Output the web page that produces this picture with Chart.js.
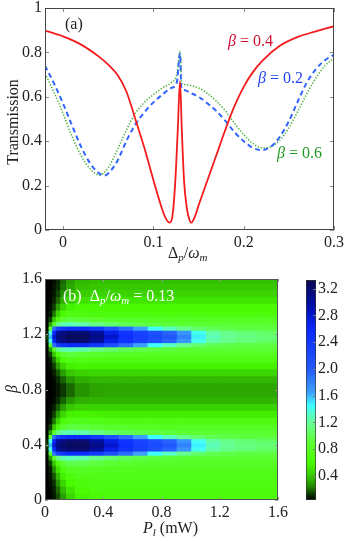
<!DOCTYPE html>
<html>
<head>
<meta charset="utf-8">
<script src="https://cdn.jsdelivr.net/npm/chart.js@4.4.0/dist/chart.umd.min.js"></script>
<style>
body { margin: 0; background: #fff; }
#wrap { position: relative; width: 346px; height: 541px; overflow: hidden; font-family: 'Liberation Serif', 'Times New Roman', serif; color: #222; }
canvas { position: absolute; }
.lbl { position: absolute; white-space: nowrap; font-size: 16px; line-height: 16px; }
.lbl sub { font-size: 11px; vertical-align: -3px; line-height: 0; }
.rot { transform: translate(-50%, -50%) rotate(-90deg); }
</style>
</head>
<body>
<div id="wrap">
<canvas id="chart_a" width="346" height="270" style="left:0;top:0"></canvas>
<canvas id="chart_b" width="292" height="271" style="left:0;top:270px"></canvas>
<canvas id="chart_c" width="54" height="271" style="left:292px;top:270px"></canvas>

<div class="lbl" style="left:65px;top:16px">(a)</div>
<div class="lbl" style="left:228px;top:33px;color:#d01030"><i>β</i> = 0.4</div>
<div class="lbl" style="left:258px;top:70px;color:#2244ee"><i>β</i> = 0.2</div>
<div class="lbl" style="left:277px;top:145px;color:#229922"><i>β</i> = 0.6</div>
<div class="lbl rot" style="left:13px;top:122px">Transmission</div>
<div class="lbl" style="left:168px;top:245px">Δ<sub><i>p</i></sub>/<i>ω</i><sub><i>m</i></sub></div>

<div class="lbl" style="left:63px;top:288px;color:#fff">(b)&nbsp; Δ<sub><i>p</i></sub>/<i>ω</i><sub><i>m</i></sub> = 0.13</div>
<div class="lbl rot" style="left:12px;top:389px"><i>β</i></div>
<div class="lbl" style="left:143px;top:520px"><i>P</i><sub><i>l</i></sub> (mW)</div>
</div>

<script>
const font_family = "'Liberation Serif', 'Times New Roman', serif";

// panel (a): transmission vs detuning
const x_red = [-0.02, 0, 0.02, 0.04, 0.05, 0.06, 0.07, 0.08, 0.09, 0.1, 0.105, 0.11, 0.114, 0.118, 0.121, 0.124, 0.127, 0.1295,
    0.1315, 0.134, 0.137, 0.14, 0.142, 0.146, 0.15, 0.16, 0.17, 0.18, 0.19, 0.2, 0.21, 0.22, 0.24, 0.26, 0.28, 0.3];
const t_red = [0.898, 0.872, 0.835, 0.78, 0.745, 0.70, 0.625, 0.50, 0.37, 0.225, 0.155, 0.09, 0.05, 0.033, 0.06, 0.2, 0.45, 0.67,
    0.45, 0.22, 0.10, 0.045, 0.033, 0.06, 0.11, 0.225, 0.34, 0.455, 0.56, 0.645, 0.71, 0.76, 0.83, 0.87, 0.895, 0.918];

const x_blue = [-0.02, -0.01, 0, 0.01, 0.02, 0.03, 0.04, 0.045, 0.05, 0.06, 0.07, 0.08, 0.09, 0.1, 0.11, 0.12, 0.126, 0.1295,
    0.131, 0.135, 0.14, 0.15, 0.16, 0.17, 0.18, 0.19, 0.2, 0.21, 0.22, 0.23, 0.24, 0.25, 0.26, 0.27, 0.28, 0.29, 0.3];
const t_blue = [0.74, 0.66, 0.57, 0.47, 0.375, 0.30, 0.255, 0.245, 0.255, 0.31, 0.40, 0.475, 0.53, 0.575, 0.61, 0.64, 0.665, 0.795,
    0.64, 0.63, 0.62, 0.60, 0.57, 0.535, 0.49, 0.44, 0.40, 0.37, 0.36, 0.375, 0.42, 0.49, 0.58, 0.665, 0.725, 0.765, 0.79];

const x_green = [-0.02, -0.01, 0, 0.01, 0.02, 0.03, 0.04, 0.05, 0.06, 0.07, 0.08, 0.09, 0.1, 0.11, 0.12, 0.126, 0.1295,
    0.1315, 0.135, 0.14, 0.15, 0.16, 0.17, 0.18, 0.19, 0.2, 0.21, 0.22, 0.23, 0.24, 0.25, 0.26, 0.27, 0.28, 0.29, 0.3];
const t_green = [0.705, 0.62, 0.525, 0.42, 0.335, 0.275, 0.248, 0.28, 0.36, 0.45, 0.525, 0.575, 0.61, 0.64, 0.665, 0.70, 0.805,
    0.66, 0.655, 0.652, 0.64, 0.615, 0.58, 0.535, 0.48, 0.43, 0.39, 0.37, 0.375, 0.405, 0.46, 0.535, 0.615, 0.685, 0.74, 0.775];

const ticks_a_x = [0, 0.1, 0.2, 0.3];
const ticks_a_y = [0, 0.2, 0.4, 0.6, 0.8, 1];

// panel (b): map over pump power P_l (columns) and beta (rows, finer round the two blue lobes)
const p_edges = [0, 0.02, 0.045, 0.07, 0.1, 0.14, 0.2, 0.3, 0.4, 0.5, 0.6, 0.7, 0.8, 0.9, 1.0, 1.1, 1.2, 1.3, 1.45, 1.6];
const beta_rows = [0.025, 0.075, 0.125, 0.175, 0.225, 0.27, 0.31, 0.34, 0.37, 0.40, 0.43, 0.46, 0.49, 0.53, 0.575, 0.625,
    0.675, 0.725, 0.775, 0.825, 0.875, 0.925, 0.975, 1.02, 1.06, 1.095, 1.125, 1.155, 1.185, 1.215, 1.245, 1.275, 1.31,
    1.35, 1.40, 1.45, 1.50, 1.55, 1.59];
const heat = [
    [0.04, 0.05, 0.08, 0.16, 0.30, 0.45, 0.58, 0.63, 0.65, 0.66, 0.66, 0.66, 0.66, 0.66, 0.66, 0.66, 0.66, 0.66, 0.66],
    [0.04, 0.05, 0.09, 0.20, 0.36, 0.52, 0.63, 0.67, 0.68, 0.68, 0.68, 0.68, 0.68, 0.68, 0.68, 0.68, 0.68, 0.68, 0.68],
    [0.04, 0.06, 0.12, 0.27, 0.45, 0.60, 0.68, 0.70, 0.70, 0.70, 0.70, 0.70, 0.70, 0.70, 0.70, 0.70, 0.70, 0.70, 0.70],
    [0.04, 0.07, 0.17, 0.36, 0.56, 0.68, 0.73, 0.73, 0.72, 0.72, 0.72, 0.72, 0.72, 0.72, 0.72, 0.72, 0.72, 0.72, 0.72],
    [0.04, 0.09, 0.25, 0.50, 0.70, 0.80, 0.82, 0.80, 0.78, 0.77, 0.76, 0.76, 0.76, 0.76, 0.76, 0.76, 0.76, 0.76, 0.76],
    [0.05, 0.14, 0.40, 0.70, 0.90, 0.98, 0.98, 0.94, 0.90, 0.87, 0.85, 0.84, 0.84, 0.83, 0.83, 0.83, 0.83, 0.83, 0.83],
    [0.05, 0.30, 0.85, 1.15, 1.25, 1.28, 1.25, 1.15, 1.07, 1.00, 0.96, 0.94, 0.92, 0.90, 0.90, 0.90, 0.90, 0.90, 0.90],
    [0.06, 0.90, 1.90, 2.30, 2.45, 2.55, 2.55, 2.40, 2.15, 1.90, 1.65, 1.45, 1.30, 1.18, 1.08, 1.00, 0.97, 0.95, 0.94],
    [0.10, 1.40, 2.60, 3.00, 3.12, 3.20, 3.20, 3.00, 2.70, 2.45, 2.28, 2.12, 1.95, 1.70, 1.42, 1.24, 1.16, 1.11, 1.06],
    [0.15, 1.60, 2.80, 3.10, 3.20, 3.28, 3.28, 3.10, 2.80, 2.52, 2.32, 2.18, 2.05, 1.80, 1.48, 1.28, 1.20, 1.14, 1.10],
    [0.10, 1.40, 2.60, 3.00, 3.12, 3.20, 3.20, 3.00, 2.70, 2.45, 2.28, 2.12, 1.95, 1.70, 1.42, 1.24, 1.16, 1.11, 1.06],
    [0.06, 0.90, 1.90, 2.30, 2.45, 2.55, 2.55, 2.40, 2.15, 1.90, 1.65, 1.45, 1.30, 1.18, 1.08, 1.00, 0.97, 0.95, 0.94],
    [0.05, 0.30, 0.85, 1.15, 1.25, 1.28, 1.25, 1.15, 1.07, 1.00, 0.96, 0.94, 0.92, 0.90, 0.90, 0.90, 0.90, 0.90, 0.90],
    [0.05, 0.14, 0.40, 0.70, 0.88, 0.95, 0.94, 0.90, 0.86, 0.84, 0.82, 0.81, 0.80, 0.80, 0.80, 0.80, 0.80, 0.80, 0.80],
    [0.04, 0.08, 0.22, 0.45, 0.65, 0.74, 0.75, 0.73, 0.71, 0.70, 0.70, 0.70, 0.70, 0.70, 0.70, 0.70, 0.70, 0.70, 0.70],
    [0.04, 0.06, 0.14, 0.30, 0.46, 0.56, 0.58, 0.57, 0.56, 0.55, 0.55, 0.55, 0.55, 0.55, 0.55, 0.55, 0.55, 0.55, 0.55],
    [0.04, 0.05, 0.09, 0.18, 0.30, 0.40, 0.44, 0.44, 0.44, 0.44, 0.44, 0.44, 0.44, 0.44, 0.44, 0.44, 0.44, 0.44, 0.44],
    [0.04, 0.04, 0.06, 0.11, 0.19, 0.28, 0.34, 0.35, 0.35, 0.35, 0.35, 0.35, 0.35, 0.35, 0.35, 0.35, 0.35, 0.35, 0.35],
    [0.04, 0.04, 0.05, 0.08, 0.13, 0.20, 0.27, 0.31, 0.32, 0.32, 0.32, 0.32, 0.32, 0.32, 0.32, 0.32, 0.32, 0.32, 0.32],
    [0.04, 0.04, 0.05, 0.08, 0.13, 0.20, 0.27, 0.31, 0.32, 0.32, 0.32, 0.32, 0.32, 0.32, 0.32, 0.32, 0.32, 0.32, 0.32],
    [0.04, 0.04, 0.06, 0.11, 0.19, 0.28, 0.34, 0.36, 0.36, 0.36, 0.36, 0.36, 0.36, 0.36, 0.36, 0.36, 0.36, 0.36, 0.36],
    [0.04, 0.05, 0.09, 0.18, 0.30, 0.40, 0.44, 0.45, 0.45, 0.45, 0.45, 0.45, 0.45, 0.45, 0.45, 0.45, 0.45, 0.45, 0.45],
    [0.04, 0.06, 0.14, 0.30, 0.46, 0.56, 0.58, 0.57, 0.57, 0.57, 0.57, 0.57, 0.57, 0.57, 0.57, 0.57, 0.57, 0.57, 0.57],
    [0.04, 0.08, 0.22, 0.45, 0.65, 0.73, 0.73, 0.71, 0.70, 0.70, 0.70, 0.70, 0.70, 0.70, 0.70, 0.70, 0.70, 0.70, 0.70],
    [0.05, 0.14, 0.40, 0.70, 0.88, 0.93, 0.90, 0.86, 0.84, 0.82, 0.81, 0.80, 0.80, 0.80, 0.80, 0.80, 0.80, 0.80, 0.80],
    [0.05, 0.30, 0.85, 1.15, 1.25, 1.28, 1.25, 1.15, 1.07, 1.00, 0.96, 0.94, 0.92, 0.90, 0.90, 0.90, 0.90, 0.90, 0.90],
    [0.06, 0.90, 1.90, 2.30, 2.45, 2.55, 2.55, 2.40, 2.15, 1.90, 1.65, 1.45, 1.30, 1.18, 1.08, 1.00, 0.97, 0.95, 0.94],
    [0.10, 1.40, 2.60, 3.00, 3.12, 3.20, 3.20, 3.00, 2.70, 2.45, 2.28, 2.12, 1.95, 1.70, 1.42, 1.24, 1.16, 1.11, 1.06],
    [0.15, 1.60, 2.80, 3.10, 3.20, 3.28, 3.28, 3.10, 2.80, 2.52, 2.32, 2.18, 2.05, 1.80, 1.48, 1.28, 1.20, 1.14, 1.10],
    [0.10, 1.40, 2.60, 3.00, 3.12, 3.20, 3.20, 3.00, 2.70, 2.45, 2.28, 2.12, 1.95, 1.70, 1.42, 1.24, 1.16, 1.11, 1.06],
    [0.06, 0.90, 1.90, 2.30, 2.45, 2.55, 2.55, 2.40, 2.15, 1.90, 1.65, 1.45, 1.30, 1.18, 1.08, 1.00, 0.97, 0.95, 0.94],
    [0.05, 0.30, 0.85, 1.15, 1.25, 1.28, 1.25, 1.15, 1.07, 1.00, 0.96, 0.94, 0.92, 0.90, 0.90, 0.90, 0.90, 0.90, 0.90],
    [0.05, 0.14, 0.40, 0.70, 0.88, 0.93, 0.90, 0.86, 0.84, 0.82, 0.81, 0.80, 0.80, 0.80, 0.80, 0.80, 0.80, 0.80, 0.80],
    [0.04, 0.08, 0.22, 0.45, 0.63, 0.70, 0.70, 0.68, 0.67, 0.67, 0.67, 0.67, 0.67, 0.67, 0.67, 0.67, 0.67, 0.67, 0.67],
    [0.04, 0.06, 0.14, 0.30, 0.46, 0.57, 0.62, 0.62, 0.62, 0.62, 0.62, 0.62, 0.62, 0.62, 0.62, 0.62, 0.62, 0.62, 0.62],
    [0.04, 0.05, 0.10, 0.20, 0.34, 0.44, 0.50, 0.52, 0.52, 0.52, 0.52, 0.52, 0.52, 0.52, 0.52, 0.52, 0.52, 0.52, 0.52],
    [0.04, 0.05, 0.08, 0.15, 0.26, 0.36, 0.42, 0.44, 0.44, 0.44, 0.44, 0.44, 0.44, 0.44, 0.44, 0.44, 0.44, 0.44, 0.44],
    [0.04, 0.04, 0.07, 0.12, 0.22, 0.32, 0.38, 0.40, 0.40, 0.40, 0.40, 0.40, 0.40, 0.40, 0.40, 0.40, 0.40, 0.40, 0.40],
    [0.04, 0.04, 0.06, 0.11, 0.20, 0.30, 0.36, 0.38, 0.38, 0.38, 0.38, 0.38, 0.38, 0.38, 0.38, 0.38, 0.38, 0.38, 0.38]
];
const ticks_b = [0, 0.4, 0.8, 1.2, 1.6];
const ticks_cbar = [0.4, 0.8, 1.2, 1.6, 2.0, 2.4, 2.8, 3.2];
const cbar_min = 0.04;
const cbar_max = 3.33;

// colour map (black - green - cyan - blue - navy)
const cmap_vals = [0.04, 0.12, 0.25, 0.4, 0.6, 0.9, 1.2, 1.45, 1.65, 2.0, 2.6, 2.9, 3.33];
const cmap_rgb = [[0, 0, 0], [10, 50, 0], [35, 140, 0], [55, 200, 0], [72, 250, 0], [92, 255, 50], [104, 255, 150], [64, 255, 255],
    [60, 160, 255], [35, 90, 255], [10, 40, 255], [0, 16, 180], [10, 10, 80]];

function rgb(c) {
    return 'rgb(' + Math.round(c[0]) + ',' + Math.round(c[1]) + ',' + Math.round(c[2]) + ')';
}

function colormap(v) {
    if (v <= cmap_vals[0]) return rgb(cmap_rgb[0]);
    for (let k = 1; k < cmap_vals.length; k++) {
        if (v <= cmap_vals[k]) {
            const f = (v - cmap_vals[k - 1]) / (cmap_vals[k] - cmap_vals[k - 1]);
            const a = cmap_rgb[k - 1];
            const b = cmap_rgb[k];
            return rgb([a[0] + f * (b[0] - a[0]), a[1] + f * (b[1] - a[1]), a[2] + f * (b[2] - a[2])]);
        }
    }
    return rgb(cmap_rgb[cmap_rgb.length - 1]);
}

function cbar_gradient(chart) {
    const a = chart.chartArea;
    if (!a) return null;
    const g = chart.ctx.createLinearGradient(0, a.bottom, 0, a.top);
    for (let k = 0; k < cmap_vals.length; k++) {
        g.addColorStop((cmap_vals[k] - cbar_min) / (cbar_max - cbar_min), rgb(cmap_rgb[k]));
    }
    return g;
}

// box round the plot with matlab style inward ticks
const frame_plugin = {
    id: 'frame',
    afterDatasetsDraw(chart, args, opts) {
        const ctx = chart.ctx;
        const a = chart.chartArea;
        const len = opts.len || 4;
        ctx.save();
        ctx.lineWidth = 1;
        ctx.strokeStyle = opts.tick_color || '#888';
        ctx.beginPath();
        if (opts.x_ticks) {
            for (const t of chart.scales.x.ticks) {
                const px = Math.round(chart.scales.x.getPixelForValue(t.value)) + 0.5;
                ctx.moveTo(px, a.bottom);
                ctx.lineTo(px, a.bottom - len);
                ctx.moveTo(px, a.top);
                ctx.lineTo(px, a.top + len);
            }
        }
        for (const t of chart.scales.y.ticks) {
            const py = Math.round(chart.scales.y.getPixelForValue(t.value)) + 0.5;
            if (opts.y_left) {
                ctx.moveTo(a.left, py);
                ctx.lineTo(a.left + len, py);
            }
            if (opts.y_right) {
                ctx.moveTo(a.right, py);
                ctx.lineTo(a.right - len, py);
            }
        }
        ctx.stroke();
        if (opts.frame) {
            ctx.strokeStyle = opts.frame_color || '#333';
            ctx.strokeRect(Math.round(a.left) + 0.5, Math.round(a.top) + 0.5,
                Math.round(a.right - a.left) - 1, Math.round(a.bottom - a.top) - 1);
        }
        ctx.restore();
    }
};

function tick_font() {
    return { family: font_family, size: 16, lineHeight: 1 };
}

function line_set(label, xs, ys, color, dash, width) {
    return {
        label: label,
        data: xs.map((x, i) => ({ x: x, y: ys[i] })),
        showLine: true,
        borderColor: color,
        borderWidth: width,
        borderDash: dash,
        pointRadius: 0,
        cubicInterpolationMode: 'monotone',
        fill: false
    };
}

const chart_a = new Chart(document.getElementById('chart_a'), {
    type: 'scatter',
    data: {
        datasets: [
            line_set('β = 0.4', x_red, t_red, '#f41c1c', [], 1.8),
            line_set('β = 0.2', x_blue, t_blue, '#3064ff', [5, 3.5], 2),
            line_set('β = 0.6', x_green, t_green, '#46ad32', [1.3, 1.7], 1.5)
        ]
    },
    options: {
        responsive: false,
        animation: false,
        events: [],
        layout: { padding: { left: 0, right: 12, top: 8, bottom: 0 } },
        plugins: {
            legend: { display: false },
            tooltip: { enabled: false },
            frame: { x_ticks: true, y_left: true, y_right: true, frame: true, len: 4, tick_color: '#8a8a8a', frame_color: '#444' }
        },
        scales: {
            x: {
                type: 'linear', min: -0.02, max: 0.3,
                afterBuildTicks: s => { s.ticks = ticks_a_x.map(v => ({ value: v })); },
                afterFit: s => { s.height = 40; s.paddingLeft = 0; s.paddingRight = 0; },
                grid: { display: false, drawTicks: false },
                border: { display: false },
                ticks: { padding: 5, color: '#222', font: tick_font(), maxRotation: 0, autoSkip: false, callback: v => String(v) }
            },
            y: {
                type: 'linear', min: 0, max: 1,
                afterBuildTicks: s => { s.ticks = ticks_a_y.map(v => ({ value: v })); },
                afterFit: s => { s.width = 45; s.paddingTop = 0; s.paddingBottom = 0; },
                grid: { display: false, drawTicks: false },
                border: { display: false },
                ticks: { padding: 3, color: '#222', font: tick_font(), autoSkip: false, callback: v => String(v) }
            }
        }
    },
    plugins: [frame_plugin]
});

// one bar dataset per P column, rows sized by their neighbours ('flex')
let column_sets = [];
for (let j = 0; j < p_edges.length - 1; j++) {
    column_sets.push({
        label: 'P column ' + j,
        data: beta_rows.map(b => ({ y: b, x: [p_edges[j], p_edges[j + 1]] })),
        backgroundColor: beta_rows.map((b, i) => colormap(heat[i][j])),
        borderWidth: 0,
        inflateAmount: 0.6,
        stack: 'map',
        barThickness: 'flex',
        barPercentage: 1,
        categoryPercentage: 1
    });
}

const chart_b = new Chart(document.getElementById('chart_b'), {
    type: 'bar',
    data: { datasets: column_sets },
    options: {
        indexAxis: 'y',
        responsive: false,
        animation: false,
        events: [],
        layout: { padding: { left: 0, right: 14, top: 9, bottom: 0 } },
        plugins: {
            legend: { display: false },
            tooltip: { enabled: false },
            frame: { x_ticks: true, y_left: true, y_right: true, frame: true, len: 3, tick_color: '#9a9a9a', frame_color: '#555' }
        },
        scales: {
            x: {
                type: 'linear', min: 0, max: 1.6, stacked: false,
                afterBuildTicks: s => { s.ticks = ticks_b.map(v => ({ value: v })); },
                afterFit: s => { s.height = 41; s.paddingLeft = 0; s.paddingRight = 0; },
                grid: { display: false, drawTicks: false },
                border: { display: false },
                ticks: { padding: 5, color: '#222', font: tick_font(), maxRotation: 0, autoSkip: false, callback: v => String(v) }
            },
            y: {
                type: 'linear', min: 0, max: 1.6, offset: false,
                afterBuildTicks: s => { s.ticks = ticks_b.map(v => ({ value: v })); },
                afterFit: s => { s.width = 45; s.paddingTop = 0; s.paddingBottom = 0; },
                grid: { display: false, drawTicks: false, offset: false },
                border: { display: false },
                ticks: { padding: 3, color: '#222', font: tick_font(), autoSkip: false, callback: v => String(v) }
            }
        }
    },
    plugins: [frame_plugin]
});

const chart_c = new Chart(document.getElementById('chart_c'), {
    type: 'bar',
    data: {
        labels: [''],
        datasets: [{
            label: 'colorbar',
            data: [[cbar_min, cbar_max]],
            backgroundColor: ctx => cbar_gradient(ctx.chart),
            borderColor: '#333',
            borderWidth: 1,
            borderSkipped: false,
            barPercentage: 1,
            categoryPercentage: 1
        }]
    },
    options: {
        responsive: false,
        animation: false,
        events: [],
        layout: { padding: { left: 14, right: 0, top: 10, bottom: 41 } },
        plugins: {
            legend: { display: false },
            tooltip: { enabled: false },
            frame: { x_ticks: false, y_left: false, y_right: true, frame: false, len: 3, tick_color: '#777' }
        },
        scales: {
            x: { display: false },
            y: {
                position: 'right', min: cbar_min, max: cbar_max,
                afterBuildTicks: s => { s.ticks = ticks_cbar.map(v => ({ value: v })); },
                afterFit: s => { s.width = 30; s.paddingTop = 0; s.paddingBottom = 0; },
                grid: { display: false, drawTicks: false },
                border: { display: false },
                ticks: { padding: 2, color: '#222', font: tick_font(), autoSkip: false, callback: v => v.toFixed(1) }
            }
        }
    },
    plugins: [frame_plugin]
});
</script>
</body>
</html>
